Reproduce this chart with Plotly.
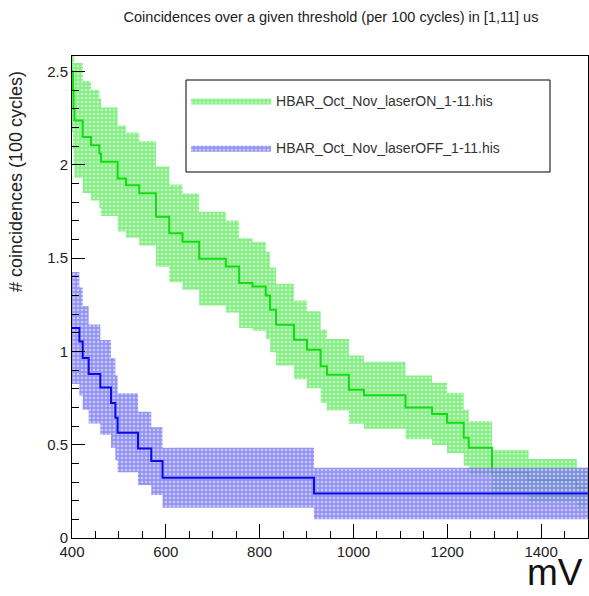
import plotly.graph_objects as go

# ---- data ----
edges_on = [400, 402, 403.4, 405.1, 422.8, 440.6, 458.3, 461.9, 497.3, 515.1, 543.4, 579,
            607.3, 635.6, 671.2, 727.9, 756.3, 784.5, 813, 822.2, 835, 873.3, 901, 930.1,
            943.5, 990.3, 1022.3, 1111, 1167.6, 1199.5, 1235, 1245.7, 1295.3, 1373.3, 1476.1, 1500]
vals_on = [2.50, 2.40, 2.30, 2.238, 2.149, 2.105, 2.061, 2.016, 1.927, 1.891, 1.847, 1.722,
           1.633, 1.588, 1.497, 1.455, 1.366, 1.348, 1.30, 1.223, 1.143, 1.062, 1.009, 0.92,
           0.875, 0.795, 0.765, 0.70, 0.665, 0.617, 0.537, 0.483, 0.35, 0.309, 0.27]
errs_on = [0.324, 0.317, 0.311, 0.307, 0.300, 0.297, 0.294, 0.291, 0.284, 0.282, 0.279, 0.269,
           0.262, 0.258, 0.251, 0.247, 0.240, 0.238, 0.234, 0.227, 0.219, 0.211, 0.206, 0.197,
           0.192, 0.183, 0.179, 0.171, 0.167, 0.161, 0.150, 0.142, 0.121, 0.114, 0.106]

edges_off = [400, 415.7, 422.8, 435.5, 460.4, 483.2, 492.4, 497.3, 540.7, 569, 593, 915.8, 1500]
vals_off = [1.125, 1.053, 0.965, 0.879, 0.807, 0.724, 0.644, 0.564, 0.48, 0.412, 0.323, 0.239]
errs_off = [0.300, 0.290, 0.278, 0.265, 0.254, 0.241, 0.227, 0.212, 0.196, 0.182, 0.161, 0.138]

name_on = "HBAR_Oct_Nov_laserON_1-11.his"
name_off = "HBAR_Oct_Nov_laserOFF_1-11.his"
title_text = "Coincidences over a given threshold (per 100 cycles) in [1,11] us"
ytitle = "# coincidences (100 cycles)"
xtitle = "mV"

FONT = "Liberation Sans, Arial, Helvetica, sans-serif"


def band(edges, vals, errs):
    xs, ys = [], []
    for i in range(len(vals)):
        xs += [edges[i], edges[i + 1]]
        ys += [vals[i] + errs[i]] * 2
    for i in reversed(range(len(vals))):
        xs += [edges[i + 1], edges[i]]
        ys += [vals[i] - errs[i]] * 2
    return xs, ys


fig = go.Figure()

bx, by = band(edges_on, vals_on, errs_on)
fig.add_trace(go.Scatter(
    x=bx, y=by, mode="lines", fill="toself", name=name_on, legendgroup="on",
    line=dict(width=0, color="rgb(0,200,0)"),
    fillcolor="rgba(120,238,120,0.9)",
    fillpattern=dict(shape=".", bgcolor="rgba(120,238,120,0.9)", fgcolor="white",
                     size=4, solidity=0.35),
    hoverinfo="skip"))
fig.add_trace(go.Scatter(
    x=edges_on, y=vals_on + [vals_on[-1]], mode="lines", line_shape="hv",
    line=dict(color="rgb(20,220,20)", width=2), showlegend=False, legendgroup="on"))

bx, by = band(edges_off, vals_off, errs_off)
fig.add_trace(go.Scatter(
    x=bx, y=by, mode="lines", fill="toself", name=name_off, legendgroup="off",
    line=dict(width=0, color="rgb(0,0,220)"),
    fillcolor="rgba(120,120,240,0.8)",
    fillpattern=dict(shape=".", bgcolor="rgba(120,120,240,0.8)", fgcolor="white",
                     size=4, solidity=0.35),
    hoverinfo="skip"))
fig.add_trace(go.Scatter(
    x=edges_off, y=vals_off + [vals_off[-1]], mode="lines", line_shape="hv",
    line=dict(color="rgb(10,10,230)", width=2), showlegend=False, legendgroup="off"))

axis_common = dict(showgrid=False, zeroline=False, showline=True, linecolor="black",
                   linewidth=1, mirror=True, ticks="inside", tickcolor="black",
                   tickfont=dict(family=FONT, size=15, color="#222"))

fig.update_xaxes(range=[400, 1500], dtick=200, tick0=400, ticklen=14,
                 minor=dict(dtick=50, ticks="inside", ticklen=7, tickcolor="black"),
                 **axis_common)
fig.update_yaxes(range=[0, 2.583], dtick=0.5, tick0=0, ticklen=13,
                 minor=dict(dtick=0.1, ticks="inside", ticklen=7, tickcolor="black"),
                 **axis_common)

fig.update_layout(
    width=589, height=596,
    margin=dict(l=72, r=1, t=56, b=58),
    paper_bgcolor="white", plot_bgcolor="white",
    font=dict(family=FONT, color="#222"),
    title=dict(text=title_text, x=331 / 589, xanchor="center", xref="container",
               y=1 - 17 / 596, yanchor="middle", yref="container",
               font=dict(family=FONT, size=14.5, color="#222")),
    legend=dict(x=0.221, y=0.940, xanchor="left", yanchor="top",
                borderwidth=0, bgcolor="rgba(0,0,0,0)",
                font=dict(family=FONT, size=14, color="#333"),
                tracegroupgap=26, itemwidth=80),
    shapes=[
        dict(type="rect", xref="paper", yref="paper",
             x0=(186 - 72) / 516, x1=(550 - 72) / 516,
             y0=(538 - 172) / 482, y1=(538 - 80) / 482,
             line=dict(color="black", width=1), fillcolor="white", layer="above"),
    ],
    annotations=[
        dict(text=ytitle, textangle=-90, xref="paper", yref="paper",
             x=-0.107, y=0.740, xanchor="center", yanchor="middle", showarrow=False,
             font=dict(family=FONT, size=18, color="#222")),
        dict(text=xtitle, xref="paper", yref="paper", x=0.992, y=-0.0726,
             xanchor="right", yanchor="middle", showarrow=False, borderpad=0,
             font=dict(family=FONT, size=37, color="#111")),
    ],
)

fig.write_html("out.html")
